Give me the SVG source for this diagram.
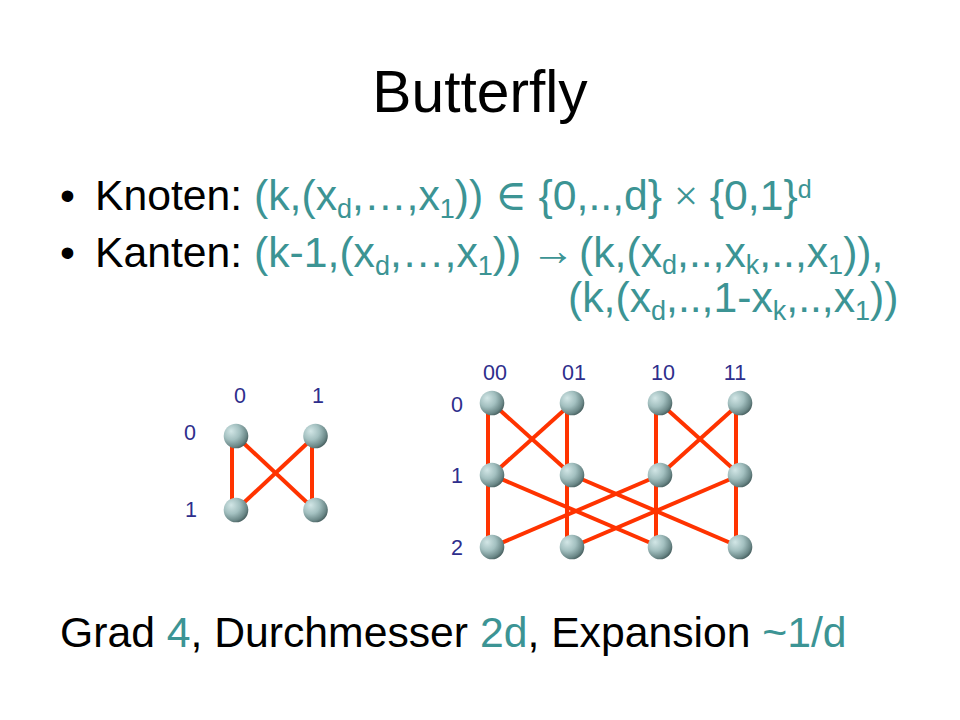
<svg xmlns="http://www.w3.org/2000/svg" width="960" height="720" viewBox="0 0 960 720">
<defs>
<radialGradient id="ball" cx="0.35" cy="0.35" r="0.75" fx="0.3" fy="0.3">
<stop offset="0" stop-color="#d2e6e6"/>
<stop offset="0.45" stop-color="#a3c0c0"/>
<stop offset="0.8" stop-color="#6a8787"/>
<stop offset="1" stop-color="#3a5050"/>
</radialGradient>
</defs>
<style>
text{font-family:"Liberation Sans",Arial,sans-serif;}
.t{fill:#3c9494;}
.h{font-size:58.7px;}
.m{font-size:42.7px;}
.s{font-size:27px;}
.p{font-size:25px;}
.sym{font-family:"Liberation Serif","DejaVu Serif",serif;}
.lbl{font-size:21.5px;fill:#2e2e8c;text-anchor:middle;}
.e line{stroke:#ff3300;stroke-width:4;}
.n circle{fill:url(#ball);}
</style>
<rect width="960" height="720" fill="#fff"/>
<text class="h" x="480" y="112" text-anchor="middle">Butterfly</text>
<text class="m" x="60" y="210">•</text>
<text class="m" x="95" y="210">Knoten: <tspan class="t">(k,(x<tspan class="s" dy="8">d</tspan><tspan dy="-8">,…,x</tspan><tspan class="s" dy="8">1</tspan><tspan dy="-8">)) </tspan><tspan class="sym">∈</tspan> {0,..,d} <tspan class="sym">×</tspan> {0,1}<tspan class="p" dy="-12">d</tspan></tspan></text>
<text class="m" x="60" y="267">•</text>
<text class="m" x="95" y="267">Kanten: <tspan class="t">(k-1,(x<tspan class="s" dy="8">d</tspan><tspan dy="-8">,…,x</tspan><tspan class="s" dy="8">1</tspan><tspan dy="-8">))</tspan></tspan></text>
<text class="m t sym" x="531" y="265" textLength="44" lengthAdjust="spacingAndGlyphs">→</text>
<text class="m t" x="579" y="267">(k,(x<tspan class="s" dy="7">d</tspan><tspan dy="-7">,..,x</tspan><tspan class="s" dy="7">k</tspan><tspan dy="-7">,..,x</tspan><tspan class="s" dy="7">1</tspan><tspan dy="-7">)),</tspan></text>
<text class="m t" x="568" y="312">(k,(x<tspan class="s" dy="8">d</tspan><tspan dy="-8">,..,1-x</tspan><tspan class="s" dy="8">k</tspan><tspan dy="-8">,..,x</tspan><tspan class="s" dy="8">1</tspan><tspan dy="-8">))</tspan></text>
<text class="m" x="60" y="647">Grad <tspan class="t">4</tspan>, Durchmesser <tspan class="t">2d</tspan>, Expansion <tspan class="t">~1/d</tspan></text>

<g id="labels-small">
<text class="lbl" x="240" y="403">0</text>
<text class="lbl" x="318" y="403">1</text>
<text class="lbl" x="190" y="440">0</text>
<text class="lbl" x="191" y="517">1</text>
</g>
<g id="labels-big">
<text class="lbl" x="495" y="380">00</text>
<text class="lbl" x="574" y="380">01</text>
<text class="lbl" x="663" y="380">10</text>
<text class="lbl" x="735" y="380">11</text>
<text class="lbl" x="457" y="412">0</text>
<text class="lbl" x="457" y="483">1</text>
<text class="lbl" x="457" y="555">2</text>
</g>

<g id="connectors" class="e">
<line x1="232" y1="436" x2="232" y2="510"/>
<line x1="312" y1="436" x2="312" y2="510"/>
<line x1="236" y1="436" x2="315" y2="510"/>
<line x1="315" y1="436" x2="236" y2="510"/>

<line x1="488" y1="403" x2="488" y2="547"/>
<line x1="567" y1="403" x2="567" y2="547"/>
<line x1="656" y1="403" x2="656" y2="547"/>
<line x1="736" y1="403" x2="736" y2="547"/>
<line x1="492" y1="403" x2="572" y2="475"/>
<line x1="572" y1="403" x2="492" y2="475"/>
<line x1="660" y1="403" x2="740" y2="475"/>
<line x1="740" y1="403" x2="660" y2="475"/>
<line x1="492" y1="475" x2="660" y2="547"/>
<line x1="660" y1="475" x2="492" y2="547"/>
<line x1="572" y1="475" x2="740" y2="547"/>
<line x1="740" y1="475" x2="572" y2="547"/>
</g>

<g class="n">
<g id="s-0-0"><circle cx="236" cy="436" r="12.3"/></g>
<g id="s-0-1"><circle cx="315.5" cy="436" r="12.3"/></g>
<g id="s-1-0"><circle cx="236" cy="510" r="12.3"/></g>
<g id="s-1-1"><circle cx="315.5" cy="510" r="12.3"/></g>
<g id="b-0-00"><circle cx="492" cy="403" r="12.3"/></g>
<g id="b-0-01"><circle cx="572" cy="403" r="12.3"/></g>
<g id="b-0-10"><circle cx="660" cy="403" r="12.3"/></g>
<g id="b-0-11"><circle cx="740" cy="403" r="12.3"/></g>
<g id="b-1-00"><circle cx="492" cy="475" r="12.3"/></g>
<g id="b-1-01"><circle cx="572" cy="475" r="12.3"/></g>
<g id="b-1-10"><circle cx="660" cy="475" r="12.3"/></g>
<g id="b-1-11"><circle cx="740" cy="475" r="12.3"/></g>
<g id="b-2-00"><circle cx="492" cy="547" r="12.3"/></g>
<g id="b-2-01"><circle cx="572" cy="547" r="12.3"/></g>
<g id="b-2-10"><circle cx="660" cy="547" r="12.3"/></g>
<g id="b-2-11"><circle cx="740" cy="547" r="12.3"/></g>
</g>
</svg>
